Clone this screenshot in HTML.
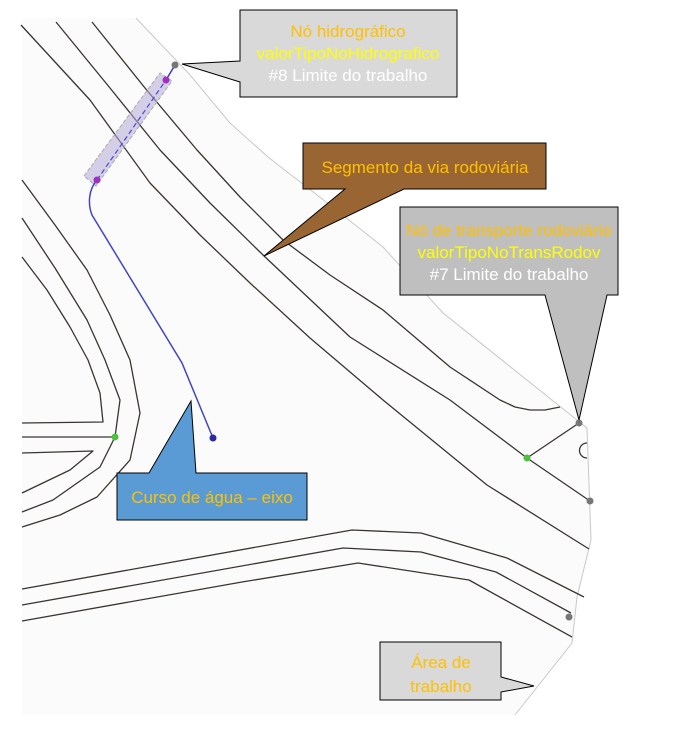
<!DOCTYPE html>
<html><head><meta charset="utf-8"><style>
html,body{margin:0;padding:0;background:#fff;}
svg{display:block;}
text{font-family:"Liberation Sans",sans-serif;font-size:17px;text-anchor:middle;}
</style></head><body>
<svg width="674" height="729" viewBox="0 0 674 729" xmlns="http://www.w3.org/2000/svg">
<polygon points="22,18 136,18 230,123 268,157 383,247 430,300 577,420 587,428 591,540 577,597 572,643 515,715 22,715" fill="#fbfbfb"/>
<polyline points="136,18 190,75 230,123 268,157 330,205 383,247 443,313 577,420 587,428 591,540 577,597 572,643 515,715" fill="none" stroke="#c8c8c8" stroke-width="1"/>
<g fill="none" stroke="#3a3530" stroke-width="1.3" stroke-linejoin="round">
<polyline points="21,25 90,100 150,183 200,235 250,283 310,338 383,400 487,485 589,549"/>
<polyline points="56,22 110,88 160,150 210,203 263,255 350,337 450,400 527,458 590,501"/>
<polyline points="92,22 145,88 197,150 240,197 283,240 330,275 383,310 450,367 500,400 515,407 530,410 545,410 560,407"/>
<polyline points="527,458 579,423"/>
<path d="M587,443 A7,7 0 0 0 587,458"/>
<polyline points="22,180 55,225 87,270 110,315 130,360 140,413 130,460 97,497 60,515 22,527"/>
<polyline points="22,218 55,268 87,320 105,360 120,400 115,437 100,467 53,500 22,512"/>
<polyline points="22,257 47,290 70,327 88,360 100,393 103,422 22,423"/>
<polyline points="22,437 115,437"/>
<polyline points="22,453 93,451 70,470 22,493"/>
<polyline points="22,589 352,530 421,533 507,558 584,597"/>
<polyline points="22,605 343,548 421,552 496,572 571,613"/>
<polyline points="22,621 242,582 358,563 469,580 572,637"/>
</g>
<polygon points="84,176 160,73 172,81 96,186" fill="rgba(180,170,215,0.55)" stroke="#aaa" stroke-width="1" stroke-dasharray="4,2"/>
<line x1="97" y1="180" x2="166" y2="80" stroke="#4a4ad0" stroke-width="1.2" stroke-dasharray="5,3"/>
<line x1="166" y1="80" x2="175" y2="65" stroke="#3a3ac8" stroke-width="1.5"/>
<path d="M97,180 C88,190 88,205 92,215 L182,363 L213,438" fill="none" stroke="#4444c8" stroke-width="1.5"/>
<circle cx="97" cy="180" r="3.5" fill="#a030c0"/>
<circle cx="166" cy="80" r="3.5" fill="#a030c0"/>
<circle cx="213" cy="438" r="3.5" fill="#2a2aa0"/>
<circle cx="175" cy="65" r="3.5" fill="#777"/>
<circle cx="579" cy="423" r="3.5" fill="#777"/>
<circle cx="590" cy="501" r="3.5" fill="#777"/>
<circle cx="569" cy="617" r="3.5" fill="#777"/>
<circle cx="115" cy="437" r="3.5" fill="#50c040"/>
<circle cx="527" cy="458" r="3.5" fill="#50c040"/>
<polygon points="240,10 457,10 457,97 240,97 240,82 182,64 240,61" fill="#d9d9d9" stroke="#000" stroke-width="1"/>
<text x="348" y="37" fill="#ffc000">Nó hidrográfico</text>
<text x="348" y="59" fill="#ffff00">valorTipoNoHidrografico</text>
<text x="348" y="81" fill="#ffffff">#8 Limite do trabalho</text>
<polygon points="303,143 546,143 546,189 404,189 264,256 345,189 303,189" fill="#996633" stroke="#000" stroke-width="1"/>
<text x="425" y="173" fill="#ffc000">Segmento da via rodoviária</text>
<polygon points="400,207 618,207 618,295 607,295 579,420 545,295 400,295" fill="#bfbfbf" stroke="#000" stroke-width="1"/>
<text x="509" y="236" fill="#ffc000">Nó de transporte rodoviário</text>
<text x="509" y="258" fill="#ffff00">valorTipoNoTransRodov</text>
<text x="509" y="280" fill="#ffffff">#7 Limite do trabalho</text>
<polygon points="117,473 149,473 191,401 196,473 307,473 307,520 117,520" fill="#5b9bd5" stroke="#000" stroke-width="1"/>
<text x="212" y="503" fill="#ffc000">Curso de água – eixo</text>
<polygon points="380,642 501,642 501,677 534,686 501,692 501,700 380,700" fill="#d9d9d9" stroke="#000" stroke-width="1"/>
<text x="441" y="668" fill="#ffc000">Área de</text>
<text x="441" y="692" fill="#ffc000">trabalho</text>
</svg>
</body></html>
